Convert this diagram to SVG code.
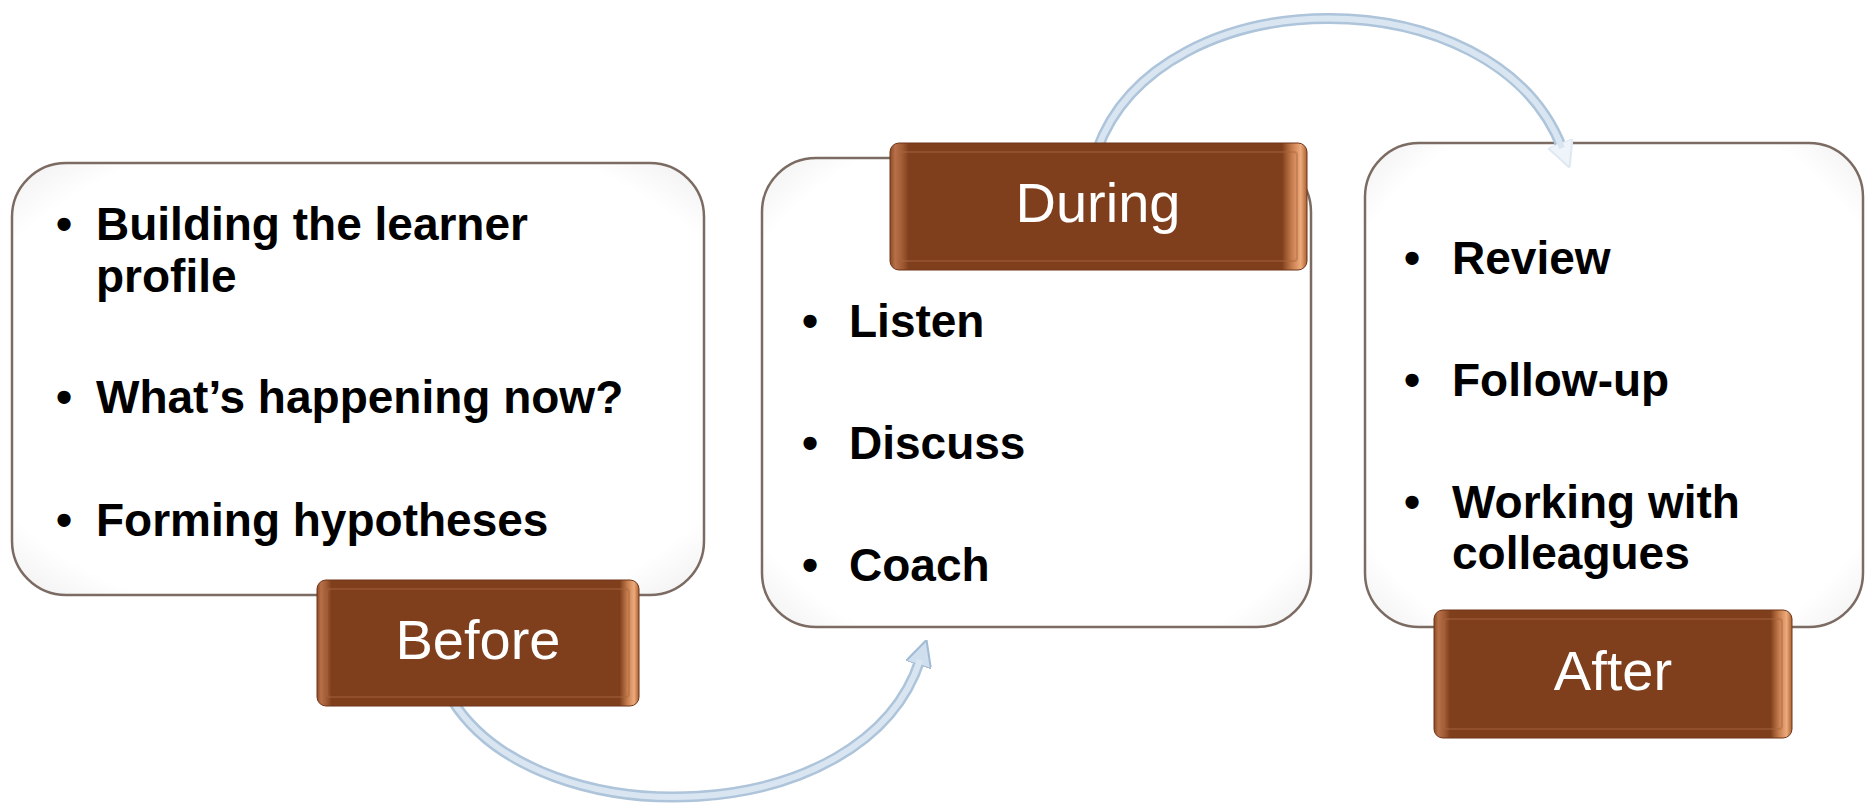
<svg xmlns="http://www.w3.org/2000/svg" width="1866" height="807" viewBox="0 0 1866 807">
<style>
.card{fill:url(#cardGrad);stroke:#7b6b62;stroke-width:2.5}
.tab{fill:url(#tabGrad);stroke:#6e3416;stroke-width:1}
.bevel{fill:none;stroke:#a8663e;stroke-width:2;opacity:0.45}
.item{font-family:"Liberation Sans",Arial,sans-serif;font-weight:bold;font-size:46px;fill:#000}
.label{font-family:"Liberation Sans",Arial,sans-serif;font-size:56px;fill:#fff;text-anchor:middle}
.arrowOuter{fill:none;stroke:#adc4da;stroke-width:11;stroke-linecap:butt}
.arrowInner{fill:none;stroke:#d9e6f2;stroke-width:6;stroke-linecap:butt}
</style>
<defs>
<linearGradient id="tabGrad" x1="0" y1="0" x2="1" y2="0">
<stop offset="0" stop-color="#8a4a26"/>
<stop offset="0.012" stop-color="#b77049"/>
<stop offset="0.03" stop-color="#a05a33"/>
<stop offset="0.045" stop-color="#7f3f1c"/>
<stop offset="0.94" stop-color="#7f3f1c"/>
<stop offset="0.965" stop-color="#c98050"/>
<stop offset="0.985" stop-color="#eeaa7c"/>
<stop offset="1" stop-color="#a8612f"/>
</linearGradient>
<radialGradient id="cardGrad" cx="0.5" cy="0.5" r="0.72">
<stop offset="0.82" stop-color="#ffffff"/>
<stop offset="1" stop-color="#ededed"/>
</radialGradient>
<marker id="head" viewBox="0 0 10 10" refX="2" refY="5" markerWidth="2.4" markerHeight="2.4" orient="auto" markerUnits="strokeWidth">
<path d="M0,0 L10,5 L0,10 z" fill="#cfdfee" stroke="#a3bcd4" stroke-width="0.8"/>
</marker>
<marker id="headFade" viewBox="0 0 10 10" refX="2" refY="5" markerWidth="2.4" markerHeight="2.4" orient="auto" markerUnits="strokeWidth">
<path d="M0,0 L10,5 L0,10 z" fill="#eef4f9" stroke="#e0e9f2" stroke-width="0.8"/>
</marker>
</defs>
<rect width="1866" height="807" fill="#ffffff"/>

<g id="card-before">
<rect class="card" x="12" y="163" width="692" height="432" rx="54"/>
<text class="item" x="56" y="240">•</text>
<text class="item" x="96" y="240">Building the learner</text>
<text class="item" x="96" y="292">profile</text>
<text class="item" x="56" y="413">•</text>
<text class="item" x="96" y="413">What’s happening now?</text>
<text class="item" x="56" y="536">•</text>
<text class="item" x="96" y="536">Forming hypotheses</text>
</g>

<g id="card-during">
<rect class="card" x="762" y="158" width="549" height="469" rx="54"/>
<text class="item" x="802" y="337">•</text>
<text class="item" x="849" y="337">Listen</text>
<text class="item" x="802" y="459">•</text>
<text class="item" x="849" y="459">Discuss</text>
<text class="item" x="802" y="581">•</text>
<text class="item" x="849" y="581">Coach</text>
</g>

<g id="card-after">
<rect class="card" x="1365" y="143" width="498" height="484" rx="54"/>
<text class="item" x="1404" y="274">•</text>
<text class="item" x="1452" y="274">Review</text>
<text class="item" x="1404" y="396">•</text>
<text class="item" x="1452" y="396">Follow-up</text>
<text class="item" x="1404" y="518">•</text>
<text class="item" x="1452" y="518">Working with</text>
<text class="item" x="1452" y="569">colleagues</text>
</g>

<g id="connectors">
<path class="arrowOuter" d="M 452 700 C 540 840, 865 830, 920 660" marker-end="url(#head)"/>
<path class="arrowInner" d="M 452 700 C 540 840, 865 830, 920 660"/>
<path class="arrowOuter" d="M 1097 150 C 1160 -25, 1495 -25, 1562 148" marker-end="url(#headFade)"/>
<path class="arrowInner" d="M 1097 150 C 1160 -25, 1495 -25, 1562 148"/>
</g>

<g id="tab-before">
<rect class="tab" x="317" y="580" width="322" height="126" rx="9"/>
<rect class="bevel" x="327" y="589" width="302" height="108" rx="3"/>
<text class="label" x="478" y="659">Before</text>
</g>

<g id="tab-during">
<rect class="tab" x="890" y="143" width="417" height="127" rx="9"/>
<rect class="bevel" x="900" y="152" width="397" height="109" rx="3"/>
<text class="label" x="1098" y="222">During</text>
</g>

<g id="tab-after">
<rect class="tab" x="1434" y="610" width="358" height="128" rx="9"/>
<rect class="bevel" x="1444" y="619" width="338" height="110" rx="3"/>
<text class="label" x="1613" y="690">After</text>
</g>
</svg>
